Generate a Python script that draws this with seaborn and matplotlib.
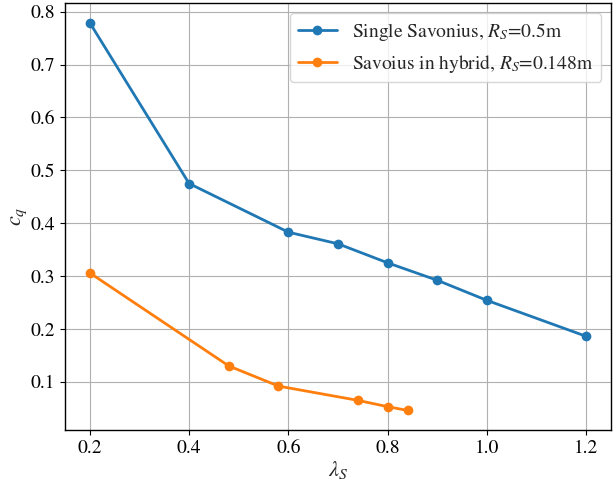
import matplotlib
matplotlib.use("Agg")
import matplotlib.pyplot as plt
import seaborn as sns
import pandas as pd

lam_single = [0.2, 0.4, 0.6, 0.7, 0.8, 0.9, 1.0, 1.2]
cq_single = [0.779, 0.475, 0.383, 0.361, 0.325, 0.292, 0.254, 0.186]
lam_hybrid = [0.2, 0.48, 0.58, 0.74, 0.8, 0.84]
cq_hybrid = [0.306, 0.130, 0.092, 0.065, 0.053, 0.046]
label_single = "Single Savonius, $R_S$=0.5m"
label_hybrid = "Savoius in hybrid, $R_S$=0.148m"

sns.set_style("ticks")
plt.rcParams['font.family'] = ['STIXGeneral', 'DejaVu Serif']
plt.rcParams['mathtext.fontset'] = 'stix'

df = pd.concat([
    pd.DataFrame({"lam": lam_single, "cq": cq_single, "series": label_single}),
    pd.DataFrame({"lam": lam_hybrid, "cq": cq_hybrid, "series": label_hybrid}),
])

fig, ax = plt.subplots(figsize=(6.13, 4.84), dpi=100)
sns.lineplot(data=df, x="lam", y="cq", hue="series", palette=["#1f77b4", "#ff7f0e"],
             marker="o", markersize=7, markeredgewidth=0, linewidth=2, ax=ax, sort=False)
ax.grid(True, color="#b0b0b0", linewidth=0.8)
ax.set_axisbelow(True)
ax.set_xlabel(r"$\lambda_S$", fontsize=16, labelpad=2)
ax.set_ylabel(r"$c_q$", fontsize=16, labelpad=1)
ax.tick_params(labelsize=14, colors="black")
for s in ax.spines.values():
    s.set_visible(True)
    s.set_linewidth(1.0)
    s.set_color("black")
leg = ax.legend(loc="upper right", fontsize=14, title=None)
plt.subplots_adjust(left=0.106, right=0.997, top=0.993, bottom=0.112)
fig.savefig("out.png", dpi=100)
